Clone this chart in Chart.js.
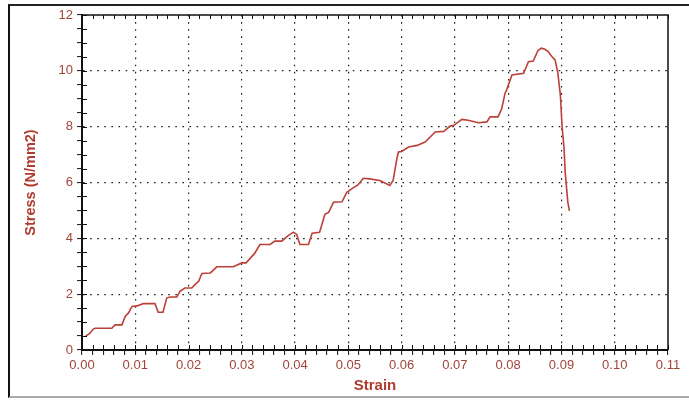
<!DOCTYPE html>
<html>
<head>
<meta charset="utf-8">
<script src="https://cdn.jsdelivr.net/npm/chart.js@4/dist/chart.umd.min.js"></script>
<style>
  html, body { margin: 0; padding: 0; background: #fff; }
  #wrap { position: relative; width: 689px; height: 401px; overflow: hidden; }
  #frame { position: absolute; left: 8px; top: 4px; width: 700px; height: 390px;
           border-left: 2px solid #111; border-top: 2px solid #222; border-bottom: 2px solid #aaa; }
  canvas { position: absolute; left: 0; top: 0; }
</style>
</head>
<body>
<div id="wrap">
  <div id="frame"></div>
  <canvas id="chart" width="689" height="401"></canvas>
</div>
<script>
// Tensile test record: strain (-) against stress (N/mm2)
const strain = [
  0.0006, 0.0015, 0.0021, 0.0025, 0.0056, 0.0062, 0.0075, 0.0081, 0.0087, 0.0094,
  0.0103, 0.0115, 0.0137, 0.0143, 0.0152, 0.0159, 0.0165, 0.0178, 0.0184, 0.0193,
  0.0206, 0.0212, 0.0219, 0.0225, 0.0241, 0.0253, 0.0284, 0.0300, 0.0308, 0.0324,
  0.0334, 0.0353, 0.0362, 0.0375, 0.0387, 0.0397, 0.0403, 0.0409, 0.0425, 0.0432,
  0.0446, 0.0456, 0.0463, 0.0472, 0.0488, 0.0497, 0.0506, 0.0518, 0.0528, 0.0540,
  0.0559, 0.0578, 0.0584, 0.0591, 0.0594, 0.0600, 0.0613, 0.0629, 0.0644, 0.0663,
  0.0679, 0.0691, 0.0698, 0.0713, 0.0725, 0.0744, 0.0760, 0.0766, 0.0781, 0.0788,
  0.0794, 0.0797, 0.0807, 0.0829, 0.0838, 0.0847, 0.0856, 0.0862, 0.0869, 0.0875,
  0.0882, 0.0888, 0.0893, 0.0898, 0.0901, 0.0905, 0.0907, 0.0912, 0.0915
];
const stress = [
  0.48, 0.60, 0.75, 0.78, 0.78, 0.90, 0.90, 1.20, 1.32, 1.56,
  1.58, 1.66, 1.66, 1.35, 1.35, 1.86, 1.90, 1.90, 2.10, 2.22,
  2.22, 2.34, 2.46, 2.74, 2.76, 2.98, 2.98, 3.12, 3.12, 3.46,
  3.78, 3.78, 3.90, 3.90, 4.10, 4.22, 4.14, 3.78, 3.78, 4.18,
  4.22, 4.86, 4.93, 5.29, 5.31, 5.65, 5.77, 5.91, 6.15, 6.13,
  6.07, 5.89, 6.07, 6.85, 7.09, 7.11, 7.27, 7.33, 7.45, 7.81,
  7.83, 8.02, 8.05, 8.26, 8.23, 8.14, 8.17, 8.35, 8.35, 8.65,
  9.19, 9.31, 9.85, 9.91, 10.33, 10.35, 10.73, 10.81, 10.77, 10.69,
  10.51, 10.39, 9.95, 9.13, 8.05, 7.20, 6.37, 5.29, 4.98
];

// Axis ranges and tick spacing (minor / labelled)
const xRange = [0, 0.11];
const xMinorStep = 0.002;
const xLabelEvery = 5;
const yRange = [0, 12];
const yMinorStep = 0.5;
const yLabelEvery = 4;

const labelColor = '#a0453a';
const titleColor = '#b03a2e';
const lineColor = '#bb4038';

const points = strain.map((s, i) => ({ x: s, y: stress[i] }));

// Frame edges and inward tick marks
const frameTicks = {
  id: 'frameTicks',
  afterDraw(chart) {
    const { ctx, chartArea: a, scales } = chart;
    ctx.save();
    ctx.strokeStyle = '#111';
    ctx.lineWidth = 1.5;
    ctx.beginPath();
    ctx.moveTo(a.left, a.top); ctx.lineTo(a.right, a.top); ctx.lineTo(a.right, a.bottom);
    ctx.stroke();
    ctx.lineWidth = 1;
    ctx.beginPath();
    scales.x.ticks.forEach((t) => {
      const px = Math.round(scales.x.getPixelForValue(t.value)) + 0.5;
      ctx.moveTo(px, a.bottom); ctx.lineTo(px, a.bottom - 5);
      ctx.moveTo(px, a.top); ctx.lineTo(px, a.top + 4);
    });
    scales.y.ticks.forEach((t) => {
      const py = Math.round(scales.y.getPixelForValue(t.value)) + 0.5;
      ctx.moveTo(a.left, py); ctx.lineTo(a.left + 5, py);
    });
    ctx.stroke();
    ctx.restore();
  }
};

new Chart(document.getElementById('chart'), {
  type: 'line',
  data: {
    datasets: [{
      data: points,
      borderColor: lineColor,
      borderWidth: 1.6,
      pointRadius: 0,
      tension: 0,
      fill: false
    }]
  },
  options: {
    responsive: false,
    animation: false,
    parsing: false,
    layout: { padding: { left: 10, top: 15, right: 21, bottom: 4 } },
    plugins: { legend: { display: false }, tooltip: { enabled: false } },
    scales: {
      x: {
        type: 'linear',
        min: xRange[0], max: xRange[1],
        afterFit(scale) { scale.height = 47; },
        ticks: {
          stepSize: xMinorStep,
          maxTicksLimit: 1000,
          autoSkip: false,
          maxRotation: 0,
          padding: 3,
          color: labelColor,
          font: { family: "'Liberation Sans', Arial, sans-serif", size: 13 },
          callback: (v, i) => (i % xLabelEvery === 0 ? v.toFixed(2) : '')
        },
        grid: {
          color: (c) => (c.index % xLabelEvery === 0 && c.index > 0 && c.index < 55 ? '#222' : 'rgba(0,0,0,0)'),
          lineWidth: 1.2,
          tickColor: '#111',
          tickLength: 5,
          tickWidth: 1
        },
        border: { color: '#111', width: 2, dash: [1.6, 5.5] },
        title: {
          display: true, text: 'Strain', color: titleColor,
          font: { family: "'Liberation Sans', Arial, sans-serif", size: 15, weight: 'bold' },
          padding: { top: 0, bottom: 2 }
        }
      },
      y: {
        type: 'linear',
        min: yRange[0], max: yRange[1],
        afterFit(scale) { scale.width = 72; },
        ticks: {
          stepSize: yMinorStep,
          maxTicksLimit: 1000,
          autoSkip: false,
          padding: 4,
          color: labelColor,
          font: { family: "'Liberation Sans', Arial, sans-serif", size: 13 },
          callback: (v, i) => (i % yLabelEvery === 0 ? String(v) : '')
        },
        grid: {
          color: (c) => (c.index % yLabelEvery === 0 && c.index > 0 && c.index < 24 ? '#222' : 'rgba(0,0,0,0)'),
          lineWidth: 1.2,
          tickColor: '#111',
          tickLength: 5,
          tickWidth: 1
        },
        border: { color: '#111', width: 2, dash: [1.6, 5.5] },
        title: {
          display: true, text: 'Stress (N/mm2)', color: titleColor,
          font: { family: "'Liberation Sans', Arial, sans-serif", size: 14.5, weight: 'bold' },
          padding: { top: 12, bottom: 0 }
        }
      }
    }
  },
  plugins: [frameTicks]
});
</script>
</body>
</html>
